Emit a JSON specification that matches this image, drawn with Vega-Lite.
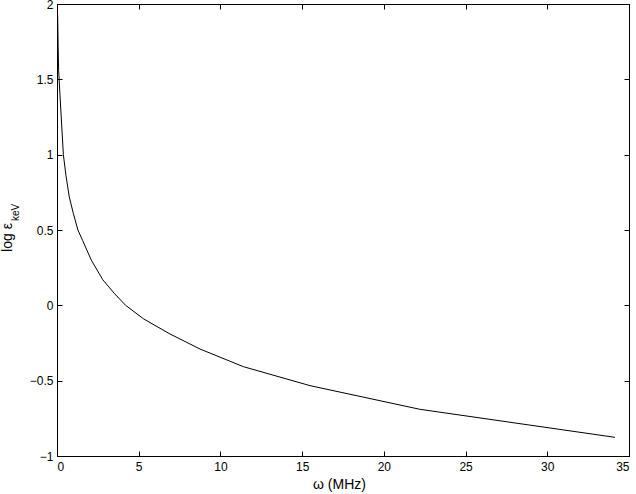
{
  "$schema": "https://vega.github.io/schema/vega-lite/v6.json",
  "width": 572,
  "height": 452,
  "autosize": "none",
  "padding": {"left": 57, "top": 4, "right": 7, "bottom": 38},
  "background": "white",
  "config": {
    "view": {"stroke": "black", "strokeWidth": 1},
    "axis": {
      "domainColor": "black",
      "tickColor": "black",
      "labelColor": "black",
      "titleColor": "black",
      "labelFont": "Liberation Sans",
      "titleFont": "Liberation Sans",
      "labelFontSize": 12,
      "titleFontSize": 14,
      "titleFontWeight": "normal",
      "grid": false,
      "tickSize": -5,
      "labelPadding": 10,
      "format": "~g"
    }
  },
  "data": {
    "values": [
      {"w": 0.04, "e": 1.93},
      {"w": 0.07, "e": 1.72},
      {"w": 0.1, "e": 1.56},
      {"w": 0.18, "e": 1.4},
      {"w": 0.29, "e": 1.19},
      {"w": 0.39, "e": 1.0},
      {"w": 0.55, "e": 0.86},
      {"w": 0.75, "e": 0.72},
      {"w": 1.0, "e": 0.61},
      {"w": 1.28, "e": 0.5},
      {"w": 1.57, "e": 0.43},
      {"w": 2.1, "e": 0.3},
      {"w": 2.8, "e": 0.17},
      {"w": 3.5, "e": 0.08},
      {"w": 4.2, "e": 0.0},
      {"w": 5.3, "e": -0.09},
      {"w": 6.91, "e": -0.19},
      {"w": 8.75, "e": -0.29},
      {"w": 11.4, "e": -0.407},
      {"w": 15.48, "e": -0.533},
      {"w": 22.2, "e": -0.69},
      {"w": 34.14, "e": -0.876}
    ]
  },
  "layer": [
    {
      "mark": {"type": "line", "color": "black", "strokeWidth": 1},
      "encoding": {
        "x": {
          "field": "w", "type": "quantitative",
          "scale": {"domain": [0, 35], "nice": false, "zero": false},
          "axis": {"orient": "bottom", "values": [0, 5, 10, 15, 20, 25, 30, 35], "title": "ω (MHz)", "titleX": 282, "titleAlign": "center", "titleY": 21, "titleBaseline": "top"}
        },
        "y": {
          "field": "e", "type": "quantitative",
          "scale": {"domain": [-1, 2], "nice": false, "zero": false},
          "axis": {"orient": "left", "values": [-1, -0.5, 0, 0.5, 1, 1.5, 2], "title": "log ε", "titleX": -50, "titleY": 233, "titleBaseline": "middle", "titleAlign": "center", "labelPadding": 9}
        }
      }
    },
    {
      "mark": {"type": "line", "opacity": 0},
      "encoding": {
        "x": {
          "field": "w", "type": "quantitative",
          "axis": {"orient": "top", "values": [0, 5, 10, 15, 20, 25, 30, 35], "labels": false, "title": null}
        },
        "y": {
          "field": "e", "type": "quantitative",
          "axis": {"orient": "right", "values": [-1, -0.5, 0, 0.5, 1, 1.5, 2], "labels": false, "title": null}
        }
      }
    },
    {
      "mark": {"type": "line", "opacity": 0},
      "encoding": {
        "x": {"field": "w", "type": "quantitative", "axis": null},
        "y": {
          "field": "e", "type": "quantitative",
          "axis": {"orient": "left", "labels": false, "ticks": false, "domain": false, "title": "keV", "titleFontSize": 10, "titleX": -42, "titleY": 208, "titleBaseline": "middle", "titleAlign": "center"}
        }
      }
    }
  ],
  "resolve": {"axis": {"x": "independent", "y": "independent"}}
}
